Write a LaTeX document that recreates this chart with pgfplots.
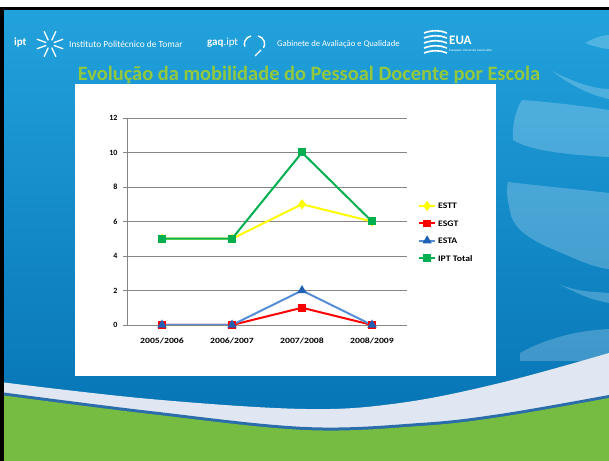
\documentclass[border=0pt]{standalone}
\usepackage{pgfplots}
\pgfplotsset{compat=1.18}
\usepackage{fontspec}
\setmainfont{Carlito}
\definecolor{bgtop}{HTML}{22A2DC}
\definecolor{bgbot}{HTML}{0470B2}
\definecolor{band}{HTML}{E1E7F2}
\definecolor{bline}{HTML}{2A6DAA}
\definecolor{grn}{HTML}{76BC43}
\definecolor{ttl}{HTML}{92C83E}
\definecolor{gridc}{HTML}{868686}
\definecolor{cestt}{HTML}{FFFF00}
\definecolor{cesgt}{HTML}{FF0000}
\definecolor{cesta}{HTML}{558ED5}
\definecolor{cestam}{HTML}{1F62B5}
\definecolor{cipt}{HTML}{00B050}
\newcommand{\wx}[1]{\scalebox{1.22}[1]{#1}}
\newcommand{\wl}[1]{\scalebox{1.15}[1]{#1}}
\begin{document}
\begin{tikzpicture}[x=1bp,y=1bp]
\path[use as bounding box] (0,0) rectangle (609,461);
\fill[white] (0,0) rectangle (609,461);
\shade[top color=bgtop, bottom color=bgbot] (0,0) rectangle (609,451);
% swooshes on the right
\begin{scope}[fill=white, fill opacity=0.22]
\fill (585,418) .. controls (595,424) and (605,426) .. (609,426) -- (609,412) .. controls (600,413) and (592,415) .. cycle;
\fill (552,390) .. controls (575,378) and (595,372) .. (609,372) -- (609,362) .. controls (590,366) and (570,376) .. cycle;
\fill (522,361) .. controls (560,358) and (590,354) .. (609,351) -- (609,304) .. controls (570,306) and (530,310) .. (513,321) .. controls (512,335) and (515,350) .. cycle;
\fill (508,279) .. controls (550,274) and (585,271) .. (609,268) -- (609,192) .. controls (590,194) and (570,205) .. (545,215) .. controls (525,225) and (512,235) .. (510,250) .. controls (507,262) and (506,272) .. cycle;
\fill (560,176) .. controls (580,170) .. (609,168) -- (609,158) .. controls (590,162) .. cycle;
\fill (520,108) .. controls (550,125) and (585,131) .. (609,132) -- (609,100) -- (520,100) -- cycle;
\end{scope}
% bottom bands
\fill[band] plot[smooth,tension=0.6] coordinates {(0,79) (150,62) (305,52) (400,58) (500,78) (609,108)} -- (609,0) -- (0,0) -- cycle;
\fill[bline] plot[smooth,tension=0.6] coordinates {(0,69) (150,50) (305,34) (420,38) (500,47) (609,66)} -- (609,0) -- (0,0) -- cycle;
\fill[grn] plot[smooth,tension=0.6] coordinates {(0,66) (150,47) (305,31) (420,35) (500,44) (609,63)} -- (609,0) -- (0,0) -- cycle;
% frame
\fill[black] (0,451) rectangle (609,454);
\fill[black] (0,0) rectangle (4,454);
% header
\node[white, anchor=west, inner sep=0pt, font=\fontsize{11}{13}\selectfont\bfseries] at (14,418) {ipt};
\begin{scope}[white, line width=1.3bp]
\foreach \a in {20,65,115,160,200,245,295,340} {\draw (50,417) ++(\a:4) -- ++(\a:10);}
\end{scope}
\node[white, anchor=west, inner sep=0pt, font=\fontsize{9.4}{11}\selectfont] at (69,417) {Instituto Politécnico de Tomar};
\node[white, anchor=west, inner sep=0pt, font=\fontsize{11}{13}\selectfont] at (207,418) {\textbf{gaq}.ipt};
\begin{scope}[white, line width=1.4bp]
\draw (251,425) arc (100:200:8);
\draw (258,425) arc (80:-30:8);
\draw (261,411) -- (255,405);
\end{scope}
\node[white, anchor=west, inner sep=0pt, font=\fontsize{8.7}{10}\selectfont] at (277,417) {Gabinete de Avaliação e Qualidade};
\begin{scope}[white, line width=1.6bp]
\foreach \y in {428,423,418,413,408} {\draw (424,\y) .. controls (432,\y+3) and (440,\y+3) .. (447,\y);}
\end{scope}
\node[white, anchor=west, inner sep=0pt, font=\fontsize{13}{15}\selectfont\bfseries] at (449,421) {EUA};
\node[white, anchor=west, inner sep=0pt, font=\fontsize{3.3}{4}\selectfont] at (449,410) {European University Association};
% title
\node[ttl, inner sep=0pt, font=\fontsize{20.5}{24}\selectfont\bfseries] at (309,386) {Evolução da mobilidade do Pessoal Docente por Escola};
% chart panel
\fill[white] (75,85) rectangle (496,377);
\begin{axis}[
  at={(127bp,136bp)}, anchor=south west,
  scale only axis, width=280bp, height=207bp,
  xmin=-0.5, xmax=3.5, ymin=0, ymax=12,
  axis x line*=bottom, axis y line*=left,
  axis line style={-, draw=gridc, line width=0.9bp},
  xtick={0,1,2,3},
  xticklabels={\wx{2005/2006},\wx{2006/2007},\wx{2007/2008},\wx{2008/2009}},
  extra x ticks={-0.5,0.5,1.5,2.5,3.5},
  extra x tick labels={},
  extra x tick style={major tick length=4bp, tick style={draw=gridc, line width=0.9bp}},
  ytick={0,2,4,6,8,10,12},
  ymajorgrids,
  grid style={draw=gridc, line width=0.9bp},
  tick align=outside,
  major tick length=4bp,
  x tick style={draw=none},
  y tick style={draw=gridc, line width=0.9bp},
  tick label style={font=\fontsize{8}{10}\selectfont\bfseries, black},
  /pgf/number format/assume math mode=true,
  xticklabel style={yshift=-5bp},
  yticklabel style={xshift=-2bp},
  legend style={at={(1.039,0.449)}, anchor=west, draw=none, fill=none, inner sep=0pt,
    nodes={inner sep=0pt, minimum height=17.4bp, text depth=0pt, font=\fontsize{8.5}{10}\selectfont\bfseries},
    column sep=2bp, row sep=0pt},
  legend cell align=left,
  legend image code/.code={\draw[mark repeat=2,mark phase=2,#1] plot coordinates {(0bp,0bp) (8bp,0bp) (16bp,0bp)};},
  every axis plot/.append style={line width=2bp},
]
\addplot[color=cestt, mark=diamond*, mark size=3.5bp, mark options={fill=cestt, draw=cestt}] coordinates {(0,5) (1,5) (2,7) (3,6)};
\addlegendentry{\wl{ESTT}}
\addplot[color=cesgt, mark=square*, mark size=2.8bp, mark options={fill=cesgt, draw=cesgt}] coordinates {(0,0) (1,0) (2,1) (3,0)};
\addlegendentry{\wl{ESGT}}
\addplot[color=cesta, mark=triangle*, mark size=3.5bp, mark options={fill=cestam, draw=cestam}] coordinates {(0,0) (1,0) (2,2) (3,0)};
\addlegendentry{\wl{ESTA}}
\addplot[color=cipt, mark=square*, mark size=3bp, mark options={fill=cipt, draw=cipt}] coordinates {(0,5) (1,5) (2,10) (3,6)};
\addlegendentry{\wl{IPT Total}}
\end{axis}
\end{tikzpicture}
\end{document}
